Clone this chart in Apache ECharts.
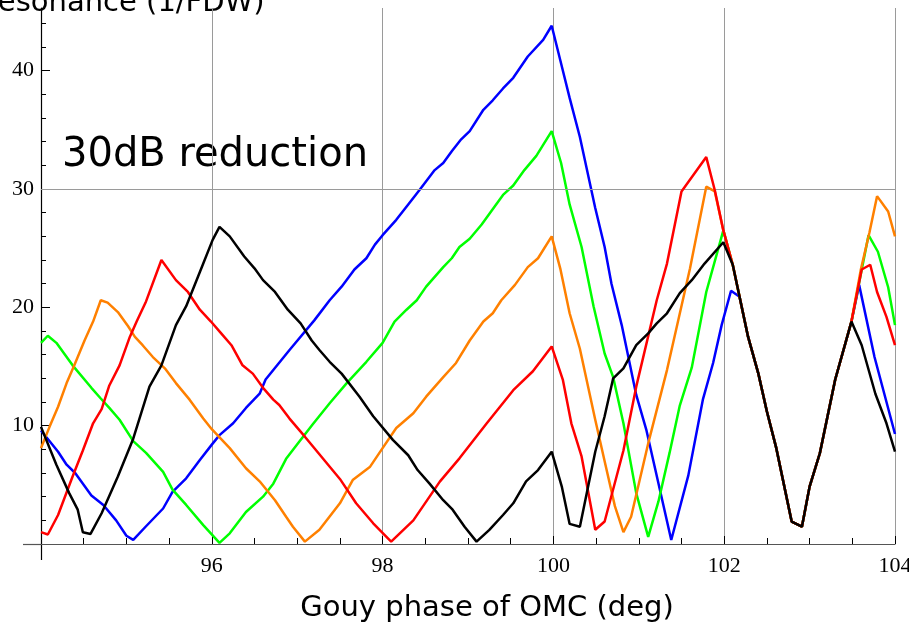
<!DOCTYPE html>
<html>
<head>
<meta charset="utf-8">
<script src="https://cdn.jsdelivr.net/npm/echarts@6/dist/echarts.min.js"></script>
<style>
  html, body { margin: 0; padding: 0; background: #fff; }
  #chart { width: 909px; height: 628px; }
</style>
</head>
<body>
<div id="chart"></div>
<script>
// values (Gouy phase in deg, resonance in 1/FDW)
var blueX = [94.0, 94.2, 94.3, 94.4, 94.59, 94.73, 94.88, 95.0, 95.08, 95.23, 95.43, 95.54, 95.7, 95.86, 96.0, 96.09, 96.25, 96.4, 96.56, 96.63, 96.91, 97.2, 97.38, 97.52, 97.67, 97.81, 97.91, 98.0, 98.16, 98.3, 98.43, 98.61, 98.71, 98.81, 98.92, 99.02, 99.18, 99.29, 99.41, 99.53, 99.7, 99.88, 99.98, 100.08, 100.19, 100.31, 100.49, 100.6, 100.68, 100.8, 100.97, 101.09, 101.19, 101.38, 101.58, 101.75, 101.87, 101.97, 102.08, 102.18, 102.28, 102.4, 102.5, 102.61, 102.79, 102.91, 103.0, 103.12, 103.3, 103.49, 103.58, 103.76, 104.0];
var blueY = [9.6, 7.8, 6.7, 6.0, 4.1, 3.3, 2.0, 0.7, 0.35, 1.5, 3.0, 4.4, 5.55, 7.1, 8.4, 9.2, 10.2, 11.5, 12.7, 13.9, 16.4, 18.9, 20.6, 21.75, 23.2, 24.15, 25.3, 26.1, 27.4, 28.7, 29.9, 31.6, 32.2, 33.2, 34.2, 34.9, 36.7, 37.5, 38.5, 39.4, 41.2, 42.6, 43.8, 40.9, 37.7, 34.4, 28.4, 25.1, 22.0, 18.5, 12.6, 9.6, 6.4, 0.34, 5.8, 12.2, 15.3, 18.5, 21.4, 20.9, 17.5, 14.4, 11.2, 8.1, 1.9, 1.46, 4.85, 7.67, 13.9, 18.8, 21.9, 15.8, 9.3];

var greenX = [94.0, 94.08, 94.18, 94.37, 94.59, 94.7, 94.8, 94.92, 95.08, 95.23, 95.43, 95.54, 95.7, 95.9, 96.09, 96.21, 96.4, 96.6, 96.72, 96.87, 97.03, 97.18, 97.38, 97.58, 97.81, 98.0, 98.14, 98.28, 98.4, 98.51, 98.71, 98.81, 98.9, 99.02, 99.16, 99.27, 99.41, 99.53, 99.66, 99.8, 99.98, 100.09, 100.19, 100.33, 100.47, 100.6, 100.7, 100.82, 100.97, 101.11, 101.23, 101.36, 101.48, 101.62, 101.79, 101.99, 102.1, 102.28, 102.4, 102.5, 102.61, 102.79, 102.91, 103.0, 103.12, 103.3, 103.49, 103.69, 103.8, 103.92, 104.0];
var greenY = [17.0, 17.6, 17.0, 15.1, 13.2, 12.3, 11.5, 10.5, 8.7, 7.7, 6.1, 4.6, 3.3, 1.6, 0.1, 0.9, 2.7, 4.0, 5.1, 7.2, 8.7, 10.1, 11.9, 13.6, 15.4, 17.0, 18.8, 19.8, 20.6, 21.75, 23.4, 24.15, 25.1, 25.8, 27.0, 28.1, 29.5, 30.3, 31.6, 32.8, 34.9, 32.2, 28.7, 25.1, 20.1, 16.1, 14.1, 10.2, 4.3, 0.6, 3.6, 7.7, 11.7, 14.9, 21.3, 26.5, 23.6, 17.5, 14.4, 11.2, 8.1, 1.9, 1.46, 4.85, 7.67, 13.9, 18.8, 26.1, 24.7, 21.7, 18.5];

var orangeX = [94.0, 94.1, 94.2, 94.3, 94.39, 94.51, 94.61, 94.7, 94.78, 94.9, 95.02, 95.1, 95.19, 95.31, 95.45, 95.58, 95.74, 95.9, 96.0, 96.21, 96.4, 96.56, 96.74, 96.87, 96.95, 97.09, 97.26, 97.5, 97.65, 97.85, 98.0, 98.16, 98.36, 98.51, 98.71, 98.86, 99.02, 99.18, 99.29, 99.39, 99.55, 99.7, 99.82, 99.98, 100.08, 100.19, 100.31, 100.49, 100.6, 100.72, 100.82, 100.91, 101.11, 101.33, 101.6, 101.79, 101.89, 101.99, 102.1, 102.28, 102.4, 102.5, 102.61, 102.79, 102.91, 103.0, 103.12, 103.3, 103.49, 103.6, 103.7, 103.79, 103.92, 104.0];
var orangeY = [8.1, 9.9, 11.6, 13.6, 15.1, 17.2, 18.8, 20.6, 20.4, 19.6, 18.4, 17.5, 16.8, 15.8, 14.85, 13.6, 12.2, 10.6, 9.7, 8.1, 6.4, 5.3, 3.7, 2.3, 1.46, 0.2, 1.2, 3.44, 5.4, 6.5, 8.1, 9.8, 11.05, 12.45, 14.1, 15.3, 17.2, 18.8, 19.5, 20.6, 21.9, 23.4, 24.15, 26.0, 23.3, 19.5, 16.5, 10.5, 7.0, 3.2, 1.0, 2.3, 8.5, 14.7, 23.3, 30.2, 29.8, 26.5, 23.6, 17.5, 14.4, 11.2, 8.1, 1.9, 1.46, 4.85, 7.67, 13.9, 18.8, 23.2, 26.3, 29.4, 28.1, 26.0];

var redX = [94.0, 94.08, 94.2, 94.37, 94.49, 94.61, 94.71, 94.8, 94.92, 95.04, 95.12, 95.23, 95.41, 95.58, 95.72, 95.86, 95.99, 96.11, 96.23, 96.36, 96.48, 96.6, 96.72, 96.79, 96.91, 97.09, 97.5, 97.69, 97.89, 98.1, 98.36, 98.67, 98.9, 99.22, 99.53, 99.76, 99.98, 100.11, 100.21, 100.33, 100.49, 100.6, 100.82, 100.97, 101.21, 101.33, 101.5, 101.79, 101.89, 101.99, 102.1, 102.28, 102.4, 102.5, 102.61, 102.79, 102.91, 103.0, 103.12, 103.3, 103.49, 103.61, 103.71, 103.79, 103.9, 104.0];
var redY = [1.0, 0.8, 2.45, 5.7, 7.9, 10.2, 11.4, 13.4, 15.1, 17.5, 18.8, 20.5, 24.0, 22.3, 21.3, 19.8, 18.8, 17.8, 16.8, 15.1, 14.4, 13.2, 12.2, 11.75, 10.6, 9.07, 5.5, 3.44, 1.75, 0.2, 2.0, 5.27, 7.24, 10.2, 13.0, 14.6, 16.7, 13.9, 10.2, 7.4, 1.2, 1.9, 7.9, 13.3, 20.6, 23.7, 29.8, 32.7, 29.9, 26.5, 23.6, 17.5, 14.4, 11.2, 8.1, 1.9, 1.46, 4.85, 7.67, 13.9, 18.8, 23.2, 23.6, 21.3, 19.2, 16.8];

var blackX = [94.0, 94.18, 94.33, 94.43, 94.49, 94.58, 94.71, 94.9, 95.08, 95.27, 95.41, 95.58, 95.7, 95.9, 96.01, 96.09, 96.21, 96.38, 96.5, 96.6, 96.74, 96.89, 97.04, 97.17, 97.26, 97.38, 97.52, 97.73, 97.89, 98.12, 98.3, 98.41, 98.55, 98.71, 98.82, 98.96, 99.1, 99.25, 99.41, 99.53, 99.68, 99.82, 99.98, 100.1, 100.19, 100.31, 100.49, 100.6, 100.7, 100.82, 100.97, 101.11, 101.21, 101.33, 101.48, 101.62, 101.77, 101.99, 102.1, 102.28, 102.4, 102.5, 102.61, 102.79, 102.91, 103.0, 103.12, 103.3, 103.49, 103.61, 103.77, 103.9, 104.0];
var blackY = [9.9, 6.7, 4.3, 2.9, 1.0, 0.85, 2.6, 5.7, 8.9, 13.3, 15.1, 18.5, 20.1, 23.7, 25.7, 26.8, 26.0, 24.3, 23.3, 22.3, 21.3, 19.8, 18.65, 17.2, 16.4, 15.4, 14.4, 12.45, 10.8, 8.8, 7.5, 6.25, 5.1, 3.7, 2.9, 1.46, 0.2, 1.2, 2.45, 3.44, 5.3, 6.25, 7.8, 4.8, 1.7, 1.46, 7.8, 10.8, 14.0, 14.85, 16.8, 17.8, 18.65, 19.5, 21.2, 22.3, 23.7, 25.5, 23.6, 17.5, 14.4, 11.2, 8.1, 1.9, 1.46, 4.85, 7.67, 13.9, 18.8, 16.8, 12.7, 10.2, 7.8];

var xTicks = [96, 98, 100, 102, 104];
var yLabels = [10, 20, 30, 40];
var yMinor = [2, 4, 6, 8, 12, 14, 16, 18, 22, 24, 26, 28, 32, 34, 36, 38, 42, 44];

function pairs(xs, ys) {
    return xs.map(function(x, i) { return [x, ys[i]]; });
}

var chart = echarts.init(document.getElementById('chart'));

var lineSeries = [
    { name: 'blue', color: '#0000ff', data: pairs(blueX, blueY) },
    { name: 'green', color: '#00ff00', data: pairs(greenX, greenY) },
    { name: 'orange', color: '#ff8000', data: pairs(orangeX, orangeY) },
    { name: 'red', color: '#ff0000', data: pairs(redX, redY) },
    { name: 'black', color: '#000000', data: pairs(blackX, blackY) }
].map(function(s, i) {
    return {
        type: 'line',
        name: s.name,
        data: s.data,
        showSymbol: false,
        symbol: 'none',
        lineStyle: { color: s.color, width: 2.5 },
        itemStyle: { color: s.color },
        z: 3 + i
    };
});

// gray reference line at 30
lineSeries[0].markLine = {
    silent: true,
    symbol: ['none', 'none'],
    label: { show: false },
    lineStyle: { color: '#9a9a9a', width: 1, type: 'solid' },
    data: [{ yAxis: 30 }]
};

var serif = 'Liberation Serif';
var axisGray = '#555';

chart.setOption({
    animation: false,
    backgroundColor: '#fff',
    grid: { left: 41, right: 14, top: 8, bottom: 84, outerBoundsMode: 'none', containLabel: false },
    xAxis: {
        type: 'value',
        min: 94,
        max: 104,
        interval: 2,
        axisLine: { lineStyle: { color: axisGray, width: 1.2 } },
        axisTick: { inside: true, length: 8, lineStyle: { color: '#000' } },
        minorTick: { show: true, splitNumber: 4, length: 6, lineStyle: { color: '#000' } },
        splitLine: { show: true, lineStyle: { color: '#9a9a9a', width: 1 } },
        axisLabel: {
            margin: 11,
            fontFamily: serif,
            fontSize: 22,
            color: '#000',
            formatter: function(v) { return xTicks.indexOf(v) >= 0 ? String(v) : ''; }
        }
    },
    yAxis: [{
        type: 'value',
        min: 0,
        max: 45.3,
        axisLine: { show: true, lineStyle: { color: '#000', width: 1.2 } },
        axisTick: { show: true, inside: true, length: 9, customValues: yLabels, lineStyle: { color: '#000' } },
        axisLabel: { customValues: yLabels, margin: 7, fontFamily: serif, fontSize: 22, color: '#000' },
        splitLine: { show: false }
    }, {
        type: 'value',
        min: 0,
        max: 45.3,
        position: 'left',
        axisLine: { show: false },
        axisTick: { show: true, inside: true, length: 5, customValues: yMinor, lineStyle: { color: '#000' } },
        axisLabel: { show: false },
        splitLine: { show: false }
    }],
    graphic: [{
        // axis stubs that run past the origin
        type: 'line',
        shape: { x1: 23, y1: 544.5, x2: 41, y2: 544.5 },
        style: { stroke: axisGray, lineWidth: 1.2 }
    }, {
        type: 'line',
        shape: { x1: 41.5, y1: 544, x2: 41.5, y2: 560 },
        style: { stroke: '#000', lineWidth: 1.2 }
    }, {
        type: 'text',
        x: -21,
        y: 18,
        style: { text: 'Resonance (1/FDW)', font: '29px "DejaVu Sans"', fill: '#000', verticalAlign: 'bottom' }
    }, {
        type: 'text',
        x: 62,
        y: 156,
        style: { text: '30dB reduction', font: '40px "DejaVu Sans"', fill: '#000', verticalAlign: 'middle' }
    }, {
        type: 'text',
        x: 487,
        y: 608,
        style: { text: 'Gouy phase of OMC (deg)', font: '29px "DejaVu Sans"', fill: '#000', align: 'center', verticalAlign: 'middle' }
    }],
    series: lineSeries
});
</script>
</body>
</html>
